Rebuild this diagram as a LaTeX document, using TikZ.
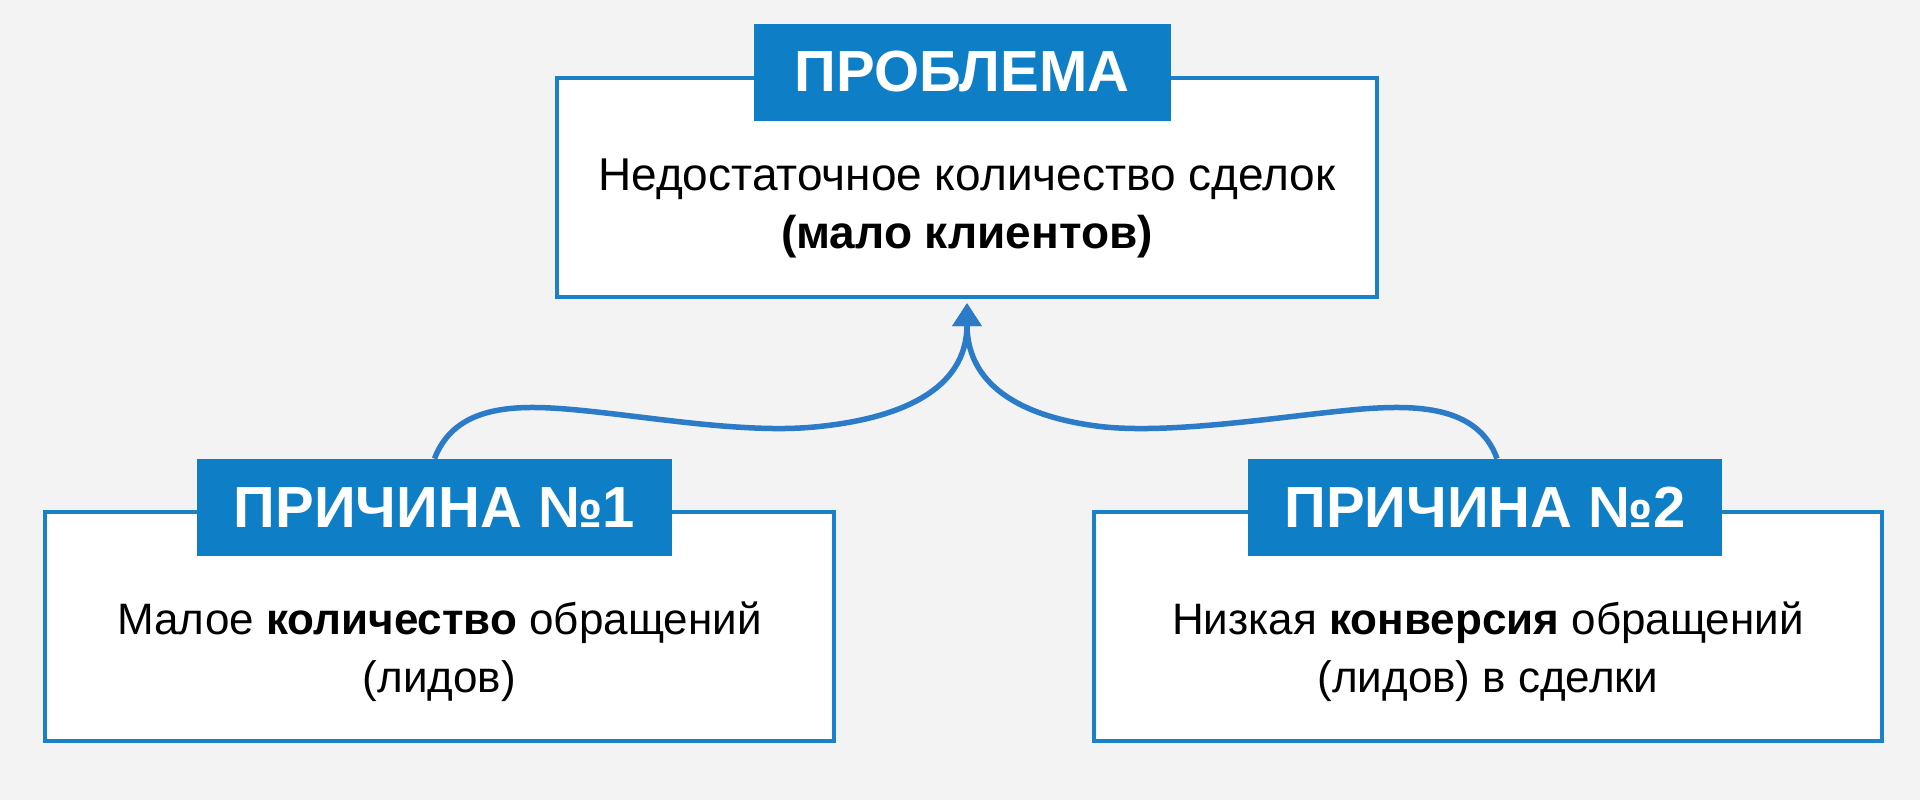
\documentclass[tikz,border=0pt]{standalone}
\usepackage{fontspec}
\setmainfont{Liberation Sans}
\usetikzlibrary{arrows.meta}
\definecolor{lblblue}{HTML}{0E7EC6}
\definecolor{frameblue}{HTML}{1A80CA}
\definecolor{linkblue}{HTML}{2B7BC8}
\definecolor{bggray}{HTML}{F3F3F3}

\begin{document}
\begin{tikzpicture}[x=0.5pt,y=-0.5pt,
  frame/.style={draw=frameblue,line width=2pt,fill=white,inner sep=0pt},
  heading/.style={fill=lblblue,text=white,inner sep=0pt,minimum height=48.5pt,font=\fontsize{29}{29}\selectfont\bfseries},
  bodytext/.style={align=center,inner sep=0pt,font=\fontsize{22}{29}\selectfont},
  link/.style={draw=linkblue,line width=2.75pt,-{Triangle[width=14pt,length=11.5pt]}}]
  \fill[bggray] (0,0) rectangle (1920,800);

  %top
  \node[frame,minimum width=410pt,minimum height=109.5pt] (problem) at (967,187.5) {};
  \node[heading,minimum width=208.5pt,at=(problem.north),xshift=-2.5pt,yshift=2pt] (problemlbl) {ПРОБЛЕМА};
  \node[bodytext,at=(problem.center),yshift=-10.5pt,font=\fontsize{23}{29}\selectfont] (problemtxt) {Недостаточное количество сделок\\\textbf{(мало клиентов)}};

  %bottom
  \node[frame,minimum width=394.5pt,minimum height=114.5pt] (cause1) at (439.5,626.5) {};
  \node[heading,minimum width=237.5pt,at=(cause1.north),xshift=-2.5pt,yshift=1.25pt] (cause1lbl) {ПРИЧИНА №1};
  \node[bodytext,at=(cause1.center),yshift=-12.75pt] (cause1txt) {Малое \textbf{количество} обращений\\(лидов)};

  \node[frame,minimum width=394pt,minimum height=114.5pt] (cause2) at (1488,626.5) {};
  \node[heading,minimum width=237pt,at=(cause2.north),xshift=-1.5pt,yshift=1.25pt] (cause2lbl) {ПРИЧИНА №2};
  \node[bodytext,at=(cause2.center),yshift=-12.75pt] (cause2txt) {Низкая \textbf{конверсия} обращений\\(лидов) в сделки};

  %links
  \draw[link] (cause1lbl.north) .. controls (455,405) and (515,405) .. (566,409)
    .. controls (640,415) and (740,434) .. (814,427)
    .. controls (900,419) and (967,390) .. ([yshift=-2pt]problem.south);
  \draw[link] ([xshift=6pt]cause2lbl.north) .. controls (1478,405) and (1414,405) .. (1362,409)
    .. controls (1290,415) and (1180,434) .. (1105,427)
    .. controls (1030,419) and (967,390) .. ([yshift=-2pt]problem.south);
\end{tikzpicture}
\end{document}
